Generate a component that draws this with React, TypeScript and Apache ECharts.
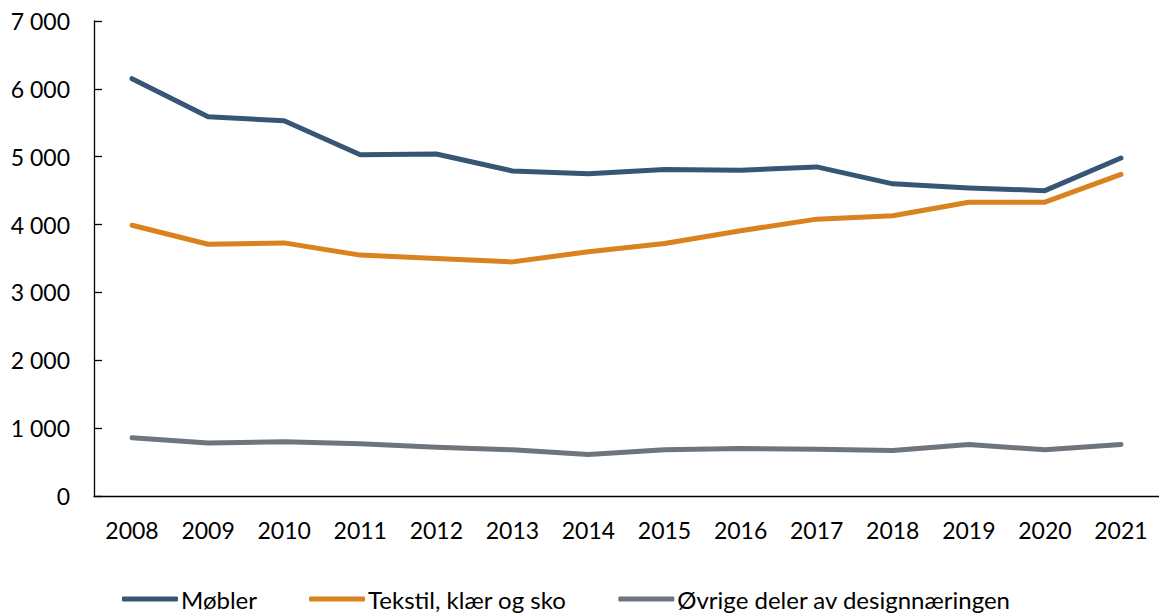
import React, { useEffect, useRef } from "react";
import * as echarts from "echarts";

const years = ["2008","2009","2010","2011","2012","2013","2014","2015","2016","2017","2018","2019","2020","2021"];
const mobler = [6150, 5590, 5530, 5030, 5040, 4790, 4750, 4810, 4800, 4850, 4600, 4540, 4500, 4980];
const tekstil = [3990, 3710, 3730, 3550, 3500, 3450, 3600, 3720, 3910, 4080, 4130, 4330, 4330, 4740];
const ovrige = [860, 780, 800, 770, 720, 680, 610, 680, 700, 690, 670, 760, 680, 760];
const seriesNames = ["Møbler", "Tekstil, klær og sko", "Øvrige deler av designnæringen"];
const colors = ["#375676", "#D9821E", "#6E757C"];

const FONT = "Lato";

function fmt(v: number) {
  const s = String(v);
  if (s.length > 3) return s.slice(0, s.length - 3) + " " + s.slice(s.length - 3);
  return s;
}

export default function App() {
  const ref = useRef<HTMLDivElement>(null);
  useEffect(() => {
    if (!ref.current) return;
    const chart = echarts.init(ref.current, null, { renderer: "svg" });
    const data = [mobler, tekstil, ovrige];
    chart.setOption({
      animation: false,
      textStyle: { fontFamily: FONT },
      grid: { left: 94, right: 0, top: 21, bottom: 117, containLabel: false },
      legend: {
        bottom: 2,
        left: 122,
        padding: 0,
        icon: "roundRect",
        itemWidth: 56,
        itemHeight: 5,
        itemGap: 52,
        textStyle: { fontFamily: FONT, fontSize: 24, color: "#000", padding: [0, 0, 0, -2] },
        data: seriesNames,
      },
      xAxis: {
        type: "category",
        data: years,
        boundaryGap: true,
        axisLine: { lineStyle: { color: "#000", width: 1.3 } },
        axisTick: { show: false },
        axisLabel: { fontFamily: FONT, fontSize: 23, color: "#000", margin: 22 },
      },
      yAxis: {
        type: "value",
        min: 0,
        max: 7000,
        interval: 1000,
        axisLine: { show: true, lineStyle: { color: "#000", width: 1.3 } },
        axisTick: { show: true, inside: true, length: 8, lineStyle: { color: "#000", width: 1.3 } },
        splitLine: { show: false },
        axisLabel: { fontFamily: FONT, fontSize: 23, color: "#000", margin: 24, formatter: (v: number) => fmt(v) },
      },
      series: seriesNames.map((n, i) => ({
        name: n,
        type: "line",
        data: data[i],
        showSymbol: false,
        symbol: "none",
        color: colors[i],
        lineStyle: { color: colors[i], width: 5, cap: "round", join: "round" },
        itemStyle: { color: colors[i] },
      })),
    });
    return () => chart.dispose();
  }, []);
  return <div ref={ref} style={{ width: 1159, height: 613, position: "absolute", left: 0, top: 0 }} />;
}
